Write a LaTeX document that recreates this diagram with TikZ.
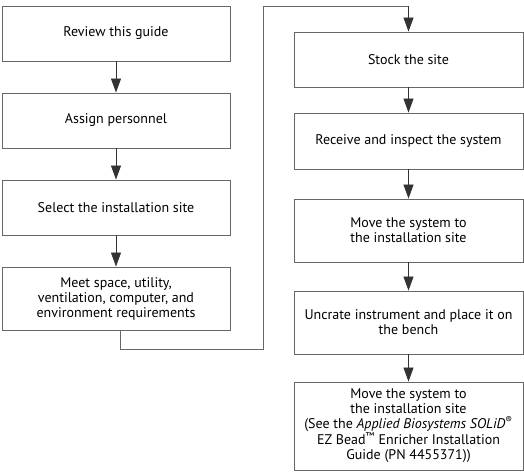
\documentclass[tikz,border=0pt]{standalone}
\usepackage{fontspec}
\setmainfont{PT Sans}
\usetikzlibrary{arrows.meta}
\begin{document}
\begin{tikzpicture}[x=1pt,y=-1pt,
  stepbox/.style={draw=black!60,line width=0.9pt,align=center,inner sep=2pt,
    font=\fontsize{14}{15}\selectfont},
  lbox/.style={stepbox,minimum width=228pt},
  rbox/.style={stepbox,minimum width=229pt},
  flow/.style={draw=black!80,line width=0.8pt,-{Triangle[width=10pt,length=14pt]}},
  plain/.style={draw=black!60,line width=0.9pt}]
\useasboundingbox (0,0) rectangle (524,471);
\node[lbox,minimum height=55pt] (b1) at (116,33.5) {Review this guide};
\node[lbox,minimum height=55pt] (b2) at (116,120.5) {Assign personnel};
\node[lbox,minimum height=55pt] (b3) at (116,207.5) {Select the installation site};
\node[lbox,minimum height=63pt] (b4) at (116,298.5) {Meet space, utility,\\ventilation, computer, and\\environment requirements};
\node[rbox,minimum height=55pt] (r1) at (408.5,59.5) {Stock the site};
\node[rbox,minimum height=56pt] (r2) at (408.5,141) {Receive and inspect the system};
\node[rbox,minimum height=63pt] (r3) at (408.5,230.5) {Move the system to\\the installation site};
\node[rbox,minimum height=63pt] (r4) at (408.5,322.5) {Uncrate instrument and place it on\\the bench};
\node[rbox,minimum height=88pt,inner sep=1pt] (r5) at (408.5,426) {Move the system to\\the installation site\\(See the \textit{Applied Biosystems SOLiD}\textsuperscript{®}\\EZ Bead\textsuperscript{™} Enricher Installation\\Guide (PN 4455371))};
\coordinate (c0) at (120,330);
\coordinate (c1) at (120,349);
\coordinate (c2) at (263,349);
\coordinate (c3) at (263,6);
\coordinate (c4) at (408.5,6);
\draw[flow] (b1) -- (b2);
\draw[flow] (b2) -- (b3);
\draw[flow] (b3) -- (b4);
\draw[plain] (c0) -- (c1) -- (c2) -- (c3) -- (c4);
\draw[flow] (c4) -- (r1);
\draw[flow] (r1) -- (r2);
\draw[flow] (r2) -- (r3);
\draw[flow] (r3) -- (r4);
\draw[flow] (r4) -- (r5);
\end{tikzpicture}
\end{document}
